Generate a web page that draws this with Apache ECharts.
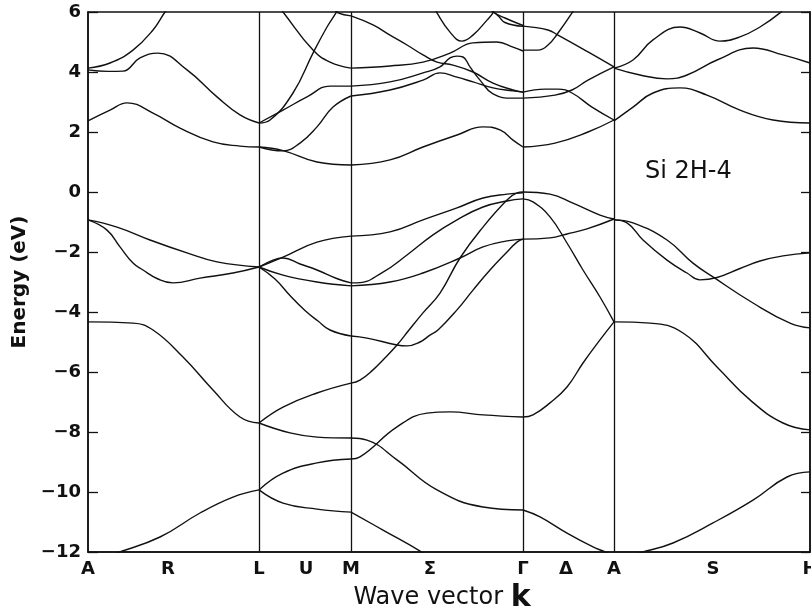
<!DOCTYPE html>
<html>
<head>
<meta charset="utf-8">
<script src="https://cdn.jsdelivr.net/npm/echarts@6/dist/echarts.min.js"></script>
<style>
  html, body { margin: 0; padding: 0; background: #fff; }
  #bands { width: 811px; height: 609px; }
</style>
</head>
<body>
<div id="bands"></div>
<script>
// k-path positions of the symmetry points (arbitrary length units along the path)
const kSym = [0, 171, 263, 435, 526, 722]; // A, L, M, Gamma, A, H
const kLabels = ['A', 'R', 'L', 'U', 'M', 'Σ', 'Γ', 'Δ', 'A', 'S', 'H'];
const kLabelPos = [0, 80, 171, 218, 263, 342, 435, 478, 526, 625, 722];
const energyTicks = [-12, -10, -8, -6, -4, -2, 0, 2, 4, 6];

// bands, [k, E in eV]
// A -> L
const bandsAL = [
  [[0, 4.13], [22, 4.3], [45, 4.73], [65, 5.4], [77, 6.0], [84, 6.3]],
  [[0, 4.07], [20, 4.02], [35, 4.03], [52, 4.47], [70, 4.63], [99, 4.07], [129, 3.17], [152, 2.57], [171, 2.3]],
  [[0, 2.37], [22, 2.73], [39, 2.97], [65, 2.63], [92, 2.13], [125, 1.67], [152, 1.53], [171, 1.5]],
  [[0, -0.93], [29, -1.17], [62, -1.6], [99, -2.03], [129, -2.33], [171, -2.5]],
  [[0, -0.93], [19, -1.27], [32, -1.83], [45, -2.37], [55, -2.6], [70, -2.9], [85, -3.03], [112, -2.87], [145, -2.7], [171, -2.5]],
  [[0, -4.33], [45, -4.37], [65, -4.6], [95, -5.5], [125, -6.6], [152, -7.5], [171, -7.7]],
  [[0, -12.35], [29, -12.03], [72, -11.5], [112, -10.7], [145, -10.17], [171, -9.93]]
];
// L -> M
const bandsLM = [
  [[171, 2.3], [182, 2.4], [205, 3.3], [225, 4.63], [239, 5.5], [248, 5.97], [252, 6.2]],
  [[171, 2.3], [195, 2.73], [219, 3.17], [242, 3.53], [263, 3.53]],
  [[188, 6.3], [195, 6.0], [225, 4.73], [242, 4.33], [263, 4.13]],
  [[171, 1.5], [195, 1.37], [212, 1.63], [229, 2.17], [245, 2.83], [263, 3.2]],
  [[171, 1.5], [195, 1.38], [229, 1.0], [263, 0.9]],
  [[246, 6.1], [250, 5.97], [263, 5.87]],
  [[171, -2.5], [195, -2.17], [229, -1.67], [263, -1.47]],
  [[171, -2.5], [185, -2.27], [195, -2.2], [212, -2.4], [229, -2.6], [250, -2.9], [263, -3.03]],
  [[171, -2.5], [195, -2.77], [229, -3.0], [263, -3.13]],
  [[171, -2.5], [187, -2.9], [202, -3.45], [217, -3.95], [230, -4.3], [242, -4.6], [263, -4.8]],
  [[171, -7.7], [195, -7.17], [229, -6.7], [263, -6.37]],
  [[171, -7.7], [202, -8.03], [229, -8.17], [263, -8.2]],
  [[171, -9.93], [195, -9.37], [229, -9.03], [263, -8.9]],
  [[171, -9.93], [195, -10.37], [229, -10.57], [263, -10.67]]
];
// M -> Gamma
const bandsMG = [
  [[263, 5.87], [285, 5.57], [302, 5.23], [319, 4.9], [335, 4.57], [349, 4.33], [365, 4.23], [385, 4.0], [405, 3.63], [425, 3.4], [435, 3.33]],
  [[263, 4.13], [302, 4.2], [335, 4.33], [362, 4.63], [385, 4.97], [409, 5.0], [425, 4.83], [435, 4.7]],
  [[263, 3.53], [302, 3.67], [335, 3.97], [352, 4.17], [362, 4.47], [369, 4.53], [375, 4.5], [382, 4.17], [392, 3.73], [405, 3.27], [425, 3.13], [435, 3.13]],
  [[263, 3.2], [302, 3.4], [335, 3.73], [352, 3.97], [369, 3.83], [385, 3.67], [405, 3.47], [425, 3.37], [435, 3.33]],
  [[346, 6.2], [349, 5.97], [362, 5.33], [374, 5.03], [385, 5.23], [399, 5.73], [405, 5.97], [408, 6.2]],
  [[403, 6.1], [405, 6.0], [417, 5.8], [435, 5.55]],
  [[405, 6.0], [410, 5.88], [417, 5.65], [435, 5.52]],
  [[263, 0.9], [302, 1.07], [335, 1.5], [369, 1.9], [395, 2.17], [412, 2.07], [425, 1.73], [435, 1.5]],
  [[263, -1.47], [302, -1.33], [335, -0.93], [369, -0.53], [395, -0.2], [419, -0.07], [435, -0.03]],
  [[263, -3.03], [269, -3.03], [295, -2.67], [319, -2.1], [345, -1.43], [369, -0.93], [395, -0.5], [419, -0.3], [435, -0.23]],
  [[263, -3.13], [302, -3.0], [335, -2.7], [372, -2.2], [395, -1.83], [419, -1.63], [435, -1.57]],
  [[263, -6.37], [272, -6.27], [285, -5.93], [295, -5.6], [309, -5.1], [321, -4.6], [335, -4.03], [352, -3.37], [372, -2.2], [395, -1.17], [419, -0.27], [429, -0.03], [435, 0]],
  [[263, -4.8], [279, -4.87], [309, -5.1], [319, -5.13], [332, -5.0], [342, -4.77], [350, -4.6], [369, -3.93], [385, -3.27], [402, -2.6], [419, -2.0], [429, -1.67], [435, -1.57]],
  [[263, -8.2], [279, -8.27], [309, -8.93], [349, -9.93], [395, -10.5], [435, -10.6]],
  [[263, -8.9], [272, -8.83], [309, -7.83], [339, -7.37], [362, -7.33], [395, -7.43], [435, -7.5]],
  [[263, -10.67], [295, -11.27], [335, -12.03], [345, -12.3]]
];
// Gamma -> A
const bandsGA = [
  [[435, 3.33], [457, 3.43], [470, 3.43], [484, 3.3], [504, 2.83], [526, 2.4]],
  [[435, 3.13], [467, 3.23], [484, 3.4], [500, 3.73], [526, 4.17]],
  [[435, 4.73], [450, 4.73], [460, 4.9], [470, 5.3], [484, 5.97], [488, 6.2]],
  [[435, 5.53], [460, 5.4], [470, 5.23], [500, 4.67], [526, 4.17]],
  [[435, 1.5], [467, 1.63], [500, 2.0], [526, 2.4]],
  [[435, 0], [462, -0.07], [485, -0.37], [512, -0.77], [526, -0.9]],
  [[435, -0.23], [445, -0.33], [462, -0.83], [479, -1.7], [495, -2.6], [512, -3.5], [526, -4.33]],
  [[435, -1.57], [462, -1.53], [479, -1.4], [499, -1.23], [526, -0.9]],
  [[435, -7.5], [445, -7.43], [462, -7.03], [479, -6.5], [495, -5.7], [512, -4.93], [526, -4.33]],
  [[435, -10.6], [452, -10.83], [479, -11.37], [505, -11.83], [519, -12.03], [526, -12.2]]
];
// A -> H
const bandsAH = [
  [[526, 4.13], [545, 4.4], [565, 5.07], [592, 5.5], [612, 5.3], [632, 5.03], [652, 5.17], [672, 5.5], [692, 5.97], [698, 6.2]],
  [[526, 4.13], [552, 3.9], [579, 3.77], [599, 3.9], [629, 4.4], [665, 4.8], [695, 4.57], [722, 4.3]],
  [[526, 2.37], [545, 2.83], [565, 3.3], [592, 3.47], [619, 3.23], [652, 2.73], [685, 2.4], [722, 2.3]],
  [[526, -0.93], [545, -1.03], [579, -1.6], [605, -2.37], [625, -2.83], [665, -3.7], [702, -4.37], [722, -4.53]],
  [[526, -0.93], [539, -1.03], [555, -1.6], [579, -2.27], [599, -2.7], [612, -2.93], [629, -2.85], [652, -2.55], [672, -2.3], [695, -2.13], [722, -2.03]],
  [[526, -4.33], [562, -4.37], [595, -4.7], [629, -5.83], [662, -6.93], [695, -7.7], [722, -7.93]],
  [[526, -12.3], [552, -12.03], [585, -11.7], [625, -11.03], [665, -10.27], [699, -9.5], [722, -9.33]]
];

const fontFamily = 'DejaVu Sans';
const allBands = [].concat(bandsAL, bandsLM, bandsMG, bandsGA, bandsAH);

const chart = echarts.init(document.getElementById('bands'));

const series = allBands.map(function (pts) {
  return {
    type: 'line',
    data: pts,
    smooth: 0.45,
    showSymbol: false,
    symbol: 'none',
    silent: true,
    clip: true,
    lineStyle: { color: '#111', width: 1.4 }
  };
});

// vertical lines at the inner symmetry points
series.push({
  type: 'line',
  data: [],
  silent: true,
  markLine: {
    silent: true,
    symbol: ['none', 'none'],
    label: { show: false },
    lineStyle: { color: '#111', type: 'solid', width: 1.3 },
    data: kSym.slice(1, 5).map(function (k) { return { xAxis: k }; })
  }
});

const option = {
  animation: false,
  backgroundColor: '#fff',
  grid: {
    left: 88, right: 1, top: 12, bottom: 57,
    outerBoundsMode: 'none',
    show: true, borderColor: '#111', borderWidth: 1.5
  },
  xAxis: {
    type: 'value',
    min: kSym[0],
    max: kSym[5],
    splitLine: { show: false },
    axisLine: { onZero: false, lineStyle: { color: '#111', width: 1.5 } },
    axisTick: { show: false },
    axisLabel: {
      customValues: kLabelPos,
      formatter: function (v) { return kLabels[kLabelPos.indexOf(v)]; },
      color: '#111',
      fontFamily: fontFamily,
      fontWeight: 'bold',
      fontSize: 18,
      margin: 8
    },
    name: 'Wave vector {k|k}',
    nameLocation: 'middle',
    nameGap: 30,
    nameTextStyle: {
      color: '#111',
      fontFamily: fontFamily,
      fontSize: 24,
      padding: [0, 14, 0, 0],
      rich: {
        k: { fontFamily: fontFamily, fontWeight: 'bold', fontSize: 30, color: '#111' }
      }
    }
  },
  yAxis: [
    {
      type: 'value',
      min: energyTicks[0],
      max: energyTicks[energyTicks.length - 1],
      interval: 2,
      splitLine: { show: false },
      axisLine: { show: true, onZero: false, lineStyle: { color: '#111', width: 1.5 } },
      axisTick: { show: true, inside: true, length: 10, lineStyle: { color: '#111', width: 1.3 } },
      axisLabel: {
        formatter: function (v) { return v < 0 ? '\u2212' + (-v) : String(v); },
        color: '#111',
        fontFamily: fontFamily,
        fontWeight: 'bold',
        fontSize: 18,
        margin: 7
      },
      name: 'Energy (eV)',
      nameLocation: 'middle',
      nameGap: 50,
      nameTextStyle: { color: '#111', fontFamily: fontFamily, fontWeight: 'bold', fontSize: 20 }
    },
    {
      type: 'value',
      position: 'right',
      min: energyTicks[0],
      max: energyTicks[energyTicks.length - 1],
      interval: 2,
      splitLine: { show: false },
      axisLine: { show: true, onZero: false, lineStyle: { color: '#111', width: 1.5 } },
      axisTick: { show: true, inside: true, length: 9, lineStyle: { color: '#111', width: 1.3 } },
      axisLabel: { show: false }
    }
  ],
  graphic: [{
    type: 'text',
    left: 645,
    top: 160,
    style: {
      text: 'Si 2H-4',
      fill: '#111',
      font: '24px "DejaVu Sans"'
    }
  }],
  series: series
};

chart.setOption(option);
</script>
</body>
</html>
